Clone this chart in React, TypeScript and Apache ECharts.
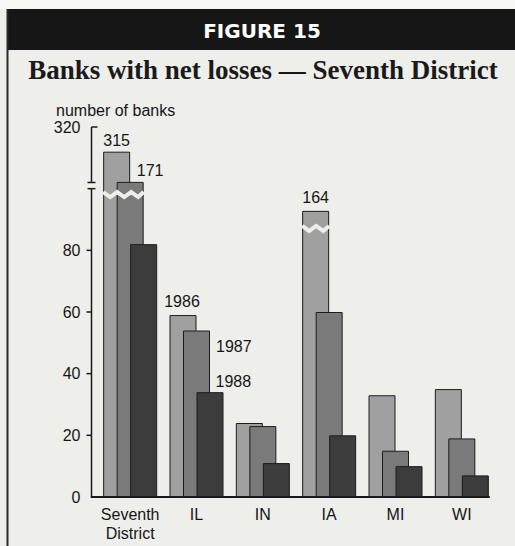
import React, { useEffect, useRef } from "react";
import * as echarts from "echarts";

// ---- data ----
const CATEGORIES = ["Seventh\nDistrict", "IL", "IN", "IA", "MI", "WI"];
const SERIES_NAMES = ["1986", "1987", "1988"];
const BANKS_1986 = [315, 59, 24, 164, 33, 35];
const BANKS_1987 = [171, 54, 23, 60, 15, 19];
const BANKS_1988 = [82, 34, 11, 20, 10, 7];
const Y_TICKS = [0, 20, 40, 60, 80];
const Y_TOP_LABEL = 320;

// Broken (schematic) value axis: true value -> drawn value, piecewise linear.
const BREAK_SCALE: [number, number][] = [
  [0, 0],
  [90, 90],
  [164, 92.8],
  [171, 102.2],
  [315, 112],
  [320, 120],
];
function toDisplay(v: number): number {
  for (let i = 1; i < BREAK_SCALE.length; i++) {
    const [a0, b0] = BREAK_SCALE[i - 1];
    const [a1, b1] = BREAK_SCALE[i];
    if (v <= a1) return b0 + ((v - a0) / (a1 - a0)) * (b1 - b0);
  }
  return BREAK_SCALE[BREAK_SCALE.length - 1][1];
}

// decoration: axis break gap (drawn units) and zigzag breaks on the tall bars
const AXIS_BREAK_LOW = 100;
const AXIS_BREAK_HIGH = 102;
const BAR_BREAKS = [
  { cat: 0, at: 98.1, bars: 2 },
  { cat: 3, at: 87.1, bars: 1 },
];

const BAR_W = 27;
const COLORS = ["#a0a0a0", "#7a7a7a", "#3c3c3c"];
const SANS = "Liberation Sans, Arial, Helvetica, sans-serif";
const BG = "#eeeeeb";
const INK = "#161616";

function buildOption() {
  const raw = [BANKS_1986, BANKS_1987, BANKS_1988];
  const labelSpecs: Record<number, any>[] = [
    {
      0: { position: "top", distance: 3 },
      3: { position: "top", distance: 5 },
      1: { text: "1986", position: "top", distance: 6, offset: [-1, 0] },
    },
    {
      0: { position: "top", distance: 3, offset: [20, 0] },
      1: { text: "1987", position: [33, 16], align: "left", verticalAlign: "middle" },
    },
    {
      1: { text: "1988", position: [19, -11], align: "left", verticalAlign: "middle" },
    },
  ];

  const barSeries = raw.map((vals, si) => ({
    type: "bar",
    name: SERIES_NAMES[si],
    xAxisIndex: 0,
    yAxisIndex: 0,
    barWidth: BAR_W,
    barGap: "-50%",
    z: 2 + si,
    itemStyle: { color: COLORS[si], borderColor: "#1c1c1c", borderWidth: 1 },
    data: vals.map((v, i) => {
      const spec = labelSpecs[si][i];
      const item: any = { value: toDisplay(v) };
      if (spec) {
        const { text, ...rest } = spec;
        item.label = {
          show: true,
          formatter: text ?? String(v),
          fontSize: 16,
          fontFamily: SANS,
          color: INK,
          ...rest,
        };
      }
      return item;
    }),
  }));

  const zigzagSeries = {
    type: "custom",
    xAxisIndex: 0,
    yAxisIndex: 0,
    z: 10,
    silent: true,
    clip: false,
    data: BAR_BREAKS.map((b) => [b.cat, b.at, b.bars]),
    renderItem: (params: any, api: any) => {
      const [cx, cy] = api.coord([api.value(0), api.value(1)]);
      const nBars = api.value(2);
      const x0 = cx - BAR_W;
      const x1 = cx + (nBars - 1) * (BAR_W / 2);
      const pts: number[][] = [];
      const step = 7;
      let k = 0;
      for (let x = x0; x < x1; x += step, k++) {
        pts.push([x, cy + (k % 2 === 0 ? -2.5 : 2.5)]);
      }
      pts.push([x1, cy + (k % 2 === 0 ? -2.5 : 2.5)]);
      return {
        type: "polyline",
        shape: { points: pts },
        style: { stroke: BG, lineWidth: 4, fill: null },
      };
    },
  };

  const axisSeries = {
    type: "custom",
    xAxisIndex: 1,
    yAxisIndex: 1,
    z: 10,
    silent: true,
    clip: false,
    data: [[0, 0]],
    renderItem: (params: any, api: any) => {
      const [x0, yBottom] = api.coord([0, 0]);
      const yLow = api.coord([0, AXIS_BREAK_LOW])[1];
      const yHigh = api.coord([0, AXIS_BREAK_HIGH])[1];
      const yTop = api.coord([0, toDisplay(Y_TOP_LABEL)])[1];
      const st = { stroke: "#1a1a1a", lineWidth: 1.5 };
      const line = (a: number, b: number, c: number, d: number) => ({
        type: "line",
        shape: { x1: a, y1: b, x2: c, y2: d },
        style: st,
      });
      const children: any[] = [
        line(x0, yBottom, x0, yLow),
        line(x0, yHigh, x0, yTop),
        line(x0 - 4, yLow, x0 + 4, yLow),
        line(x0 - 4, yHigh, x0 + 4, yHigh),
        line(x0, yTop, x0 + 6, yTop),
      ];
      Y_TICKS.filter((v) => v > 0).forEach((v) => {
        const y = api.coord([0, v])[1];
        children.push(line(x0 - 5, y, x0, y));
      });
      return { type: "group", children };
    },
  };

  const topDisplay = toDisplay(Y_TOP_LABEL);

  return {
    animation: false,
    backgroundColor: BG,
    grid: [
      { left: 97, right: 20, top: 127, bottom: 49 },
      { left: 91.5, right: 26, top: 127, bottom: 49 },
    ],
    xAxis: [
      {
        type: "category",
        gridIndex: 0,
        data: CATEGORIES,
        axisLine: { show: false },
        axisTick: { show: false },
        axisLabel: {
          fontSize: 16,
          fontFamily: SANS,
          color: INK,
          margin: 8,
          lineHeight: 19,
          interval: 0,
        },
      },
      {
        type: "value",
        gridIndex: 1,
        min: 0,
        max: 1,
        axisLine: { show: true, onZero: false, lineStyle: { color: "#1a1a1a", width: 2 } },
        axisTick: { show: false },
        axisLabel: { show: false },
        splitLine: { show: false },
      },
    ],
    yAxis: [
      { type: "value", gridIndex: 0, min: 0, max: topDisplay, show: false },
      {
        type: "value",
        gridIndex: 1,
        min: 0,
        max: topDisplay,
        interval: 20,
        axisLine: { show: false },
        axisTick: { show: false },
        splitLine: { show: false },
        axisLabel: {
          fontSize: 16,
          fontFamily: SANS,
          color: INK,
          margin: 11,
          showMaxLabel: true,
          padding: [4, 0, 0, 0],
          formatter: (v: number) =>
            Y_TICKS.includes(v) ? String(v) : Math.abs(v - topDisplay) < 1e-6 ? String(Y_TOP_LABEL) : "",
        },
      },
    ],
    graphic: [
      { type: "rect", shape: { x: 0, y: 0, width: 515, height: 9 }, style: { fill: "#f8f8f6" } },
      { type: "rect", shape: { x: 8, y: 9, width: 507, height: 41 }, style: { fill: "#161616" } },
      {
        type: "line",
        shape: { x1: 7.5, y1: 9, x2: 7.5, y2: 546 },
        style: { stroke: "#2a2a2a", lineWidth: 2 },
      },
      {
        type: "text",
        x: 262,
        y: 31,
        style: {
          text: "FIGURE 15",
          fill: "#ffffff",
          font: "bold 20px 'DejaVu Sans', sans-serif",
          textAlign: "center",
          textVerticalAlign: "middle",
        },
      },
      {
        type: "text",
        x: 263,
        y: 70,
        style: {
          text: "Banks with net losses \u2014 Seventh District",
          fill: "#1a1a1a",
          font: "bold 27px 'Liberation Serif', 'Times New Roman', serif",
          textAlign: "center",
          textVerticalAlign: "middle",
        },
      },
      {
        type: "text",
        x: 56,
        y: 110,
        style: {
          text: "number of banks",
          fill: INK,
          font: `16px ${SANS}`,
          textAlign: "left",
          textVerticalAlign: "middle",
        },
      },
    ],
    series: [...barSeries, zigzagSeries, axisSeries],
  };
}

export default function App() {
  const ref = useRef<HTMLDivElement>(null);
  useEffect(() => {
    if (!ref.current) return;
    const chart = echarts.init(ref.current, null, { renderer: "svg" });
    chart.setOption(buildOption() as any);
    return () => chart.dispose();
  }, []);
  return (
    <div
      ref={ref}
      style={{ position: "fixed", left: 0, top: 0, width: 515, height: 546, background: BG }}
    />
  );
}
